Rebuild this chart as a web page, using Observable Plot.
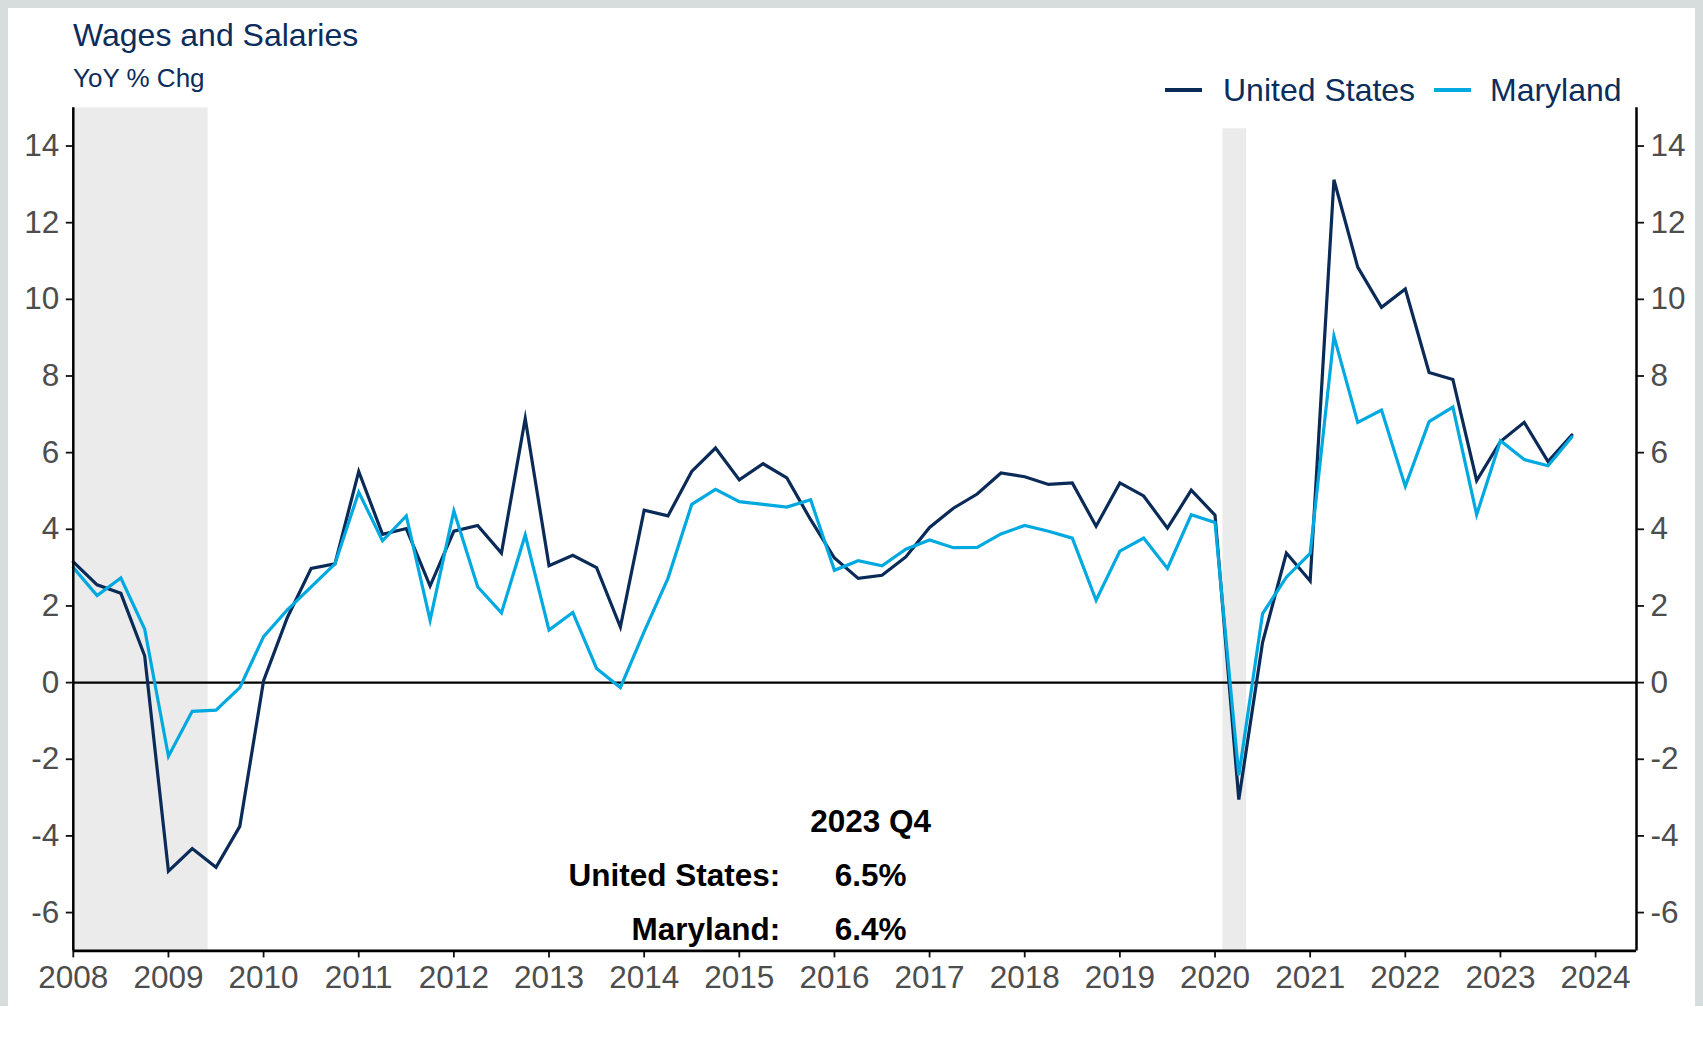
<!DOCTYPE html>
<html>
<head>
<meta charset="utf-8">
<script src="https://cdn.jsdelivr.net/npm/d3@7"></script>
<script src="https://cdn.jsdelivr.net/npm/@observablehq/plot@0.6"></script>
<style>
  body { margin: 0; background: #fff; font-family: "Liberation Sans", Arial, sans-serif; }
  #wrap { position: relative; width: 1703px; height: 1064px; overflow: hidden; background: #fff; }
  #frame { position: absolute; left: 0; top: 0; width: 1703px; height: 1006px; background: #d7dddd; }
  #card { position: absolute; left: 8px; top: 8px; width: 1687px; height: 1056px; background: #fff; }
  .txt { position: absolute; line-height: 1; white-space: nowrap; color: #0b2d5b; }
  #title { left: 73px; top: 19px; font-size: 32px; }
  #subtitle { left: 73px; top: 65px; font-size: 26px; }
  .sw { position: absolute; height: 4px; }
  #chart { position: absolute; left: 0; top: 100px; }
</style>
</head>
<body>
<div id="wrap">
  <div id="frame"></div>
  <div id="card"></div>
  <div id="title" class="txt">Wages and Salaries</div>
  <div id="subtitle" class="txt">YoY % Chg</div>
  <div id="legend"></div>
  <div id="chart"></div>
</div>
<script>
// ---- data ----
const startYear = 2008;               // first quarter is 2008 Q1
const seriesNames = ["United States", "Maryland"];
const seriesColors = ["#0a2a57", "#00a9e0"];

const usValues = [
  3.15, 2.55, 2.33, 0.70,
  -4.92, -4.33, -4.82, -3.75,
  0.05, 1.70, 2.98, 3.10,
  5.51, 3.87, 4.02, 2.52,
  3.95, 4.10, 3.38, 6.89,
  3.05, 3.32, 3.00, 1.45,
  4.50, 4.35, 5.51, 6.12,
  5.29, 5.71, 5.34, 4.25,
  3.25, 2.72, 2.80, 3.28,
  4.05, 4.55, 4.92, 5.47,
  5.37, 5.17, 5.21, 4.08,
  5.21, 4.87, 4.03, 5.02,
  4.37, -3.05, 1.05, 3.38,
  2.65, 13.12, 10.84, 9.79,
  10.27, 8.09, 7.91, 5.27,
  6.29, 6.79, 5.77, 6.46
];
const mdValues = [
  3.00, 2.27, 2.73, 1.40,
  -1.92, -0.75, -0.72, -0.13,
  1.20, 1.90, 2.50, 3.10,
  4.97, 3.70, 4.35, 1.63,
  4.48, 2.50, 1.82, 3.85,
  1.37, 1.83, 0.37, -0.13,
  1.33, 2.72, 4.65, 5.04,
  4.72, 4.65, 4.58, 4.77,
  2.93, 3.18, 3.05, 3.48,
  3.72, 3.52, 3.53, 3.88,
  4.10, 3.95, 3.77, 2.15,
  3.43, 3.77, 2.98, 4.38,
  4.18, -2.42, 1.80, 2.75,
  3.37, 9.04, 6.79, 7.11,
  5.12, 6.81, 7.19, 4.38,
  6.31, 5.82, 5.66, 6.41
];
const recessionStart = [2007.917, 2020.083];
const recessionEnd = [2009.417, 2020.333];
const recessionTop = [15, 14.45];
const xTicks = [2008, 2009, 2010, 2011, 2012, 2013, 2014, 2015, 2016, 2017, 2018, 2019, 2020, 2021, 2022, 2023, 2024];
const yTicks = [-6, -4, -2, 0, 2, 4, 6, 8, 10, 12, 14];
const latestLabel = "2023 Q4";

// ---- build tables ----
const rows = [];
usValues.forEach((v, i) => rows.push({series: seriesNames[0], t: startYear + i / 4, v}));
mdValues.forEach((v, i) => rows.push({series: seriesNames[1], t: startYear + i / 4, v}));
const xDomain = [2008, 2024.43];
const yDomain = [-7, 15];
const recessions = recessionStart.map((s, i) => ({start: s, end: recessionEnd[i], top: recessionTop[i]}));
const fmt = d3.format(".1f");
const summary = [
  {label: seriesNames[0] + ":", value: fmt(usValues[usValues.length - 1]) + "%"},
  {label: seriesNames[1] + ":", value: fmt(mdValues[mdValues.length - 1]) + "%"}
];

const axisStyle = {tickSize: 7, fontSize: 31.5, stroke: "#111", strokeWidth: 1.8, fill: "#4d4d4d", label: null, tickFormat: d => String(d)};

const chart = Plot.plot({
  width: 1703,
  height: 910,
  marginLeft: 72.8,
  marginRight: 67,
  marginTop: 7.2,
  marginBottom: 59.6,
  style: {fontFamily: "Liberation Sans, Arial, sans-serif", background: "transparent", overflow: "visible"},
  x: {domain: xDomain},
  y: {domain: yDomain},
  color: {domain: seriesNames, range: seriesColors},
  marks: [
    Plot.rect(recessions, {x1: "start", x2: "end", y1: () => yDomain[0], y2: "top", fill: "#ebebeb", clip: true}),
    Plot.ruleY([0], {stroke: "#000", strokeWidth: 2.2}),
    Plot.line(rows, {x: "t", y: "v", z: "series", stroke: "series", strokeWidth: 3.2, strokeLinejoin: "miter", strokeMiterlimit: 6}),
    Plot.axisX({...axisStyle, ticks: xTicks, tickPadding: 8}),
    Plot.axisY({...axisStyle, anchor: "left", ticks: yTicks, tickPadding: 7}),
    Plot.axisY({...axisStyle, anchor: "right", ticks: yTicks, tickPadding: 7}),
    Plot.ruleX([xDomain[0], xDomain[1]], {stroke: "#000", strokeWidth: 2.5}),
    Plot.ruleY([yDomain[0]], {stroke: "#000", strokeWidth: 2.8}),
    Plot.text([latestLabel], {x: 2016.38, y: -3.63, text: d => d, fontSize: 31.5, fontWeight: "bold", fill: "#000", textAnchor: "middle", lineAnchor: "middle"}),
    Plot.text(summary, {x: 2015.43, y: (d, i) => [-5.04, -6.44][i], text: "label", fontSize: 31.5, fontWeight: "bold", fill: "#000", textAnchor: "end", lineAnchor: "middle"}),
    Plot.text(summary, {x: 2016.38, y: (d, i) => [-5.04, -6.44][i], text: "value", fontSize: 31.5, fontWeight: "bold", fill: "#000", textAnchor: "middle", lineAnchor: "middle"})
  ]
});
document.getElementById("chart").appendChild(chart);

// ---- legend ----
const legend = document.getElementById("legend");
const legendLayout = [{sw: 1165, tx: 1223}, {sw: 1434, tx: 1490}];
seriesNames.forEach((name, i) => {
  const sw = document.createElement("div");
  sw.className = "sw";
  sw.style.left = legendLayout[i].sw + "px";
  sw.style.top = "88px";
  sw.style.width = "37px";
  sw.style.background = seriesColors[i];
  legend.appendChild(sw);
  const t = document.createElement("div");
  t.className = "txt";
  t.style.left = legendLayout[i].tx + "px";
  t.style.top = "74px";
  t.style.fontSize = "32px";
  t.textContent = name;
  legend.appendChild(t);
});
</script>
</body>
</html>
